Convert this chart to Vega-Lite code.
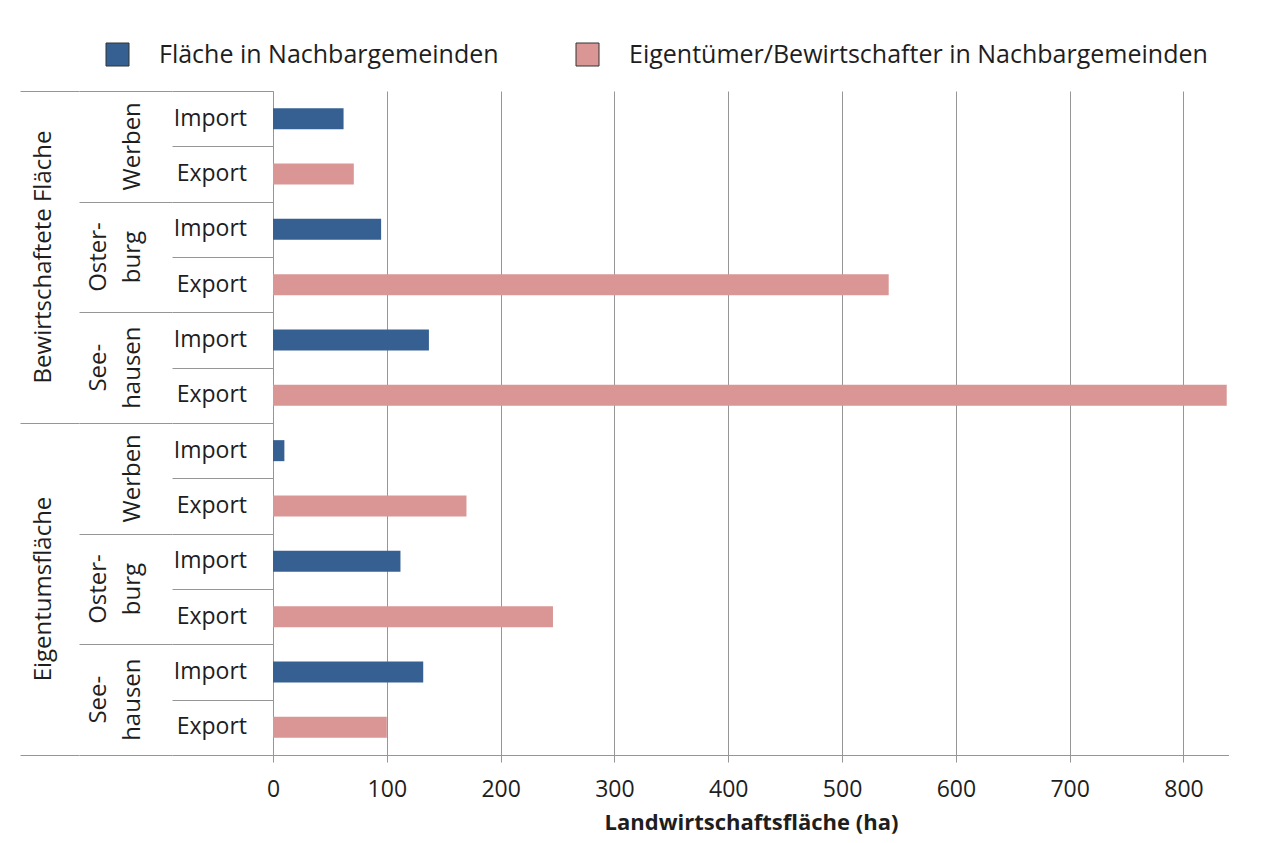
{
  "$schema": "https://vega.github.io/schema/vega-lite/v6.json",
  "background": "white",
  "padding": {"left": 20, "top": 42, "right": 0, "bottom": 4},
  "autosize": {"type": "pad"},
  "spacing": 0,
  "bounds": "flush",
  "config": {
    "view": {"stroke": null},
    "font": "Open Sans",
    "axis": {"labelFont": "Open Sans", "titleFont": "Open Sans", "labelColor": "#1e1e1e", "titleColor": "#1e1e1e", "gridColor": "#969696", "domainColor": "#969696", "tickColor": "#969696"},
    "legend": {"labelFont": "Open Sans", "labelColor": "#1e1e1e"}
  },
  "data": {
    "values": [
      {"group": "Bewirtschaftete Fläche", "gs": "B-Werben", "s1": "", "s2": "Werben", "type": "Import", "row": "B-Werben-Import", "series": "Fläche in Nachbargemeinden", "value": 62},
      {"group": "Bewirtschaftete Fläche", "gs": "B-Werben", "s1": "", "s2": "Werben", "type": "Export", "row": "B-Werben-Export", "series": "Eigentümer/Bewirtschafter in Nachbargemeinden", "value": 71},
      {"group": "Bewirtschaftete Fläche", "gs": "B-Osterburg", "s1": "Oster-", "s2": "burg", "type": "Import", "row": "B-Osterburg-Import", "series": "Fläche in Nachbargemeinden", "value": 95},
      {"group": "Bewirtschaftete Fläche", "gs": "B-Osterburg", "s1": "Oster-", "s2": "burg", "type": "Export", "row": "B-Osterburg-Export", "series": "Eigentümer/Bewirtschafter in Nachbargemeinden", "value": 541},
      {"group": "Bewirtschaftete Fläche", "gs": "B-Seehausen", "s1": "See-", "s2": "hausen", "type": "Import", "row": "B-Seehausen-Import", "series": "Fläche in Nachbargemeinden", "value": 137},
      {"group": "Bewirtschaftete Fläche", "gs": "B-Seehausen", "s1": "See-", "s2": "hausen", "type": "Export", "row": "B-Seehausen-Export", "series": "Eigentümer/Bewirtschafter in Nachbargemeinden", "value": 838},
      {"group": "Eigentumsfläche", "gs": "E-Werben", "s1": "", "s2": "Werben", "type": "Import", "row": "E-Werben-Import", "series": "Fläche in Nachbargemeinden", "value": 10},
      {"group": "Eigentumsfläche", "gs": "E-Werben", "s1": "", "s2": "Werben", "type": "Export", "row": "E-Werben-Export", "series": "Eigentümer/Bewirtschafter in Nachbargemeinden", "value": 170},
      {"group": "Eigentumsfläche", "gs": "E-Osterburg", "s1": "Oster-", "s2": "burg", "type": "Import", "row": "E-Osterburg-Import", "series": "Fläche in Nachbargemeinden", "value": 112},
      {"group": "Eigentumsfläche", "gs": "E-Osterburg", "s1": "Oster-", "s2": "burg", "type": "Export", "row": "E-Osterburg-Export", "series": "Eigentümer/Bewirtschafter in Nachbargemeinden", "value": 246},
      {"group": "Eigentumsfläche", "gs": "E-Seehausen", "s1": "See-", "s2": "hausen", "type": "Import", "row": "E-Seehausen-Import", "series": "Fläche in Nachbargemeinden", "value": 132},
      {"group": "Eigentumsfläche", "gs": "E-Seehausen", "s1": "See-", "s2": "hausen", "type": "Export", "row": "E-Seehausen-Export", "series": "Eigentümer/Bewirtschafter in Nachbargemeinden", "value": 100}
    ]
  },
  "hconcat": [
    {
      "width": 59,
      "height": 664,
      "transform": [{"aggregate": [{"op": "count", "as": "n"}], "groupby": ["group"]}],
      "mark": {"type": "text", "angle": 270, "baseline": "alphabetic", "align": "center", "dy": 1.5, "fontSize": 24, "font": "Open Sans", "color": "#1e1e1e"},
      "encoding": {
        "y": {"field": "group", "type": "nominal", "scale": {"domain": ["Bewirtschaftete Fläche", "Eigentumsfläche"], "paddingInner": 0, "paddingOuter": 0},
              "axis": {"labels": false, "ticks": false, "domain": false, "grid": true, "tickBand": "extent", "title": null, "minExtent": 0, "maxExtent": 0}},
        "text": {"field": "group"}
      }
    },
    {
      "width": 93,
      "height": 664,
      "transform": [{"aggregate": [{"op": "count", "as": "n"}], "groupby": ["gs", "s1", "s2"]}],
      "encoding": {
        "y": {"field": "gs", "type": "nominal", "scale": {"domain": ["B-Werben", "B-Osterburg", "B-Seehausen", "E-Werben", "E-Osterburg", "E-Seehausen"], "paddingInner": 0, "paddingOuter": 0},
              "axis": {"labels": false, "ticks": false, "domain": false, "grid": true, "tickBand": "extent", "title": null, "minExtent": 0, "maxExtent": 0}}
      },
      "layer": [
        {
          "mark": {"type": "text", "angle": 270, "baseline": "alphabetic", "align": "center", "dy": -19.5, "fontSize": 24, "font": "Open Sans", "color": "#1e1e1e"},
          "encoding": {"text": {"field": "s1"}}
        },
        {
          "mark": {"type": "text", "angle": 270, "baseline": "alphabetic", "align": "center", "dy": 14.5, "fontSize": 24, "font": "Open Sans", "color": "#1e1e1e"},
          "encoding": {"text": {"field": "s2"}}
        }
      ]
    },
    {
      "width": 101,
      "height": 664,
      "mark": {"type": "text", "align": "right", "baseline": "middle", "dx": 24.5, "fontSize": 23, "font": "Open Sans", "color": "#1e1e1e"},
      "encoding": {
        "y": {"field": "row", "type": "nominal", "scale": {"domain": ["B-Werben-Import", "B-Werben-Export", "B-Osterburg-Import", "B-Osterburg-Export", "B-Seehausen-Import", "B-Seehausen-Export", "E-Werben-Import", "E-Werben-Export", "E-Osterburg-Import", "E-Osterburg-Export", "E-Seehausen-Import", "E-Seehausen-Export"], "paddingInner": 0, "paddingOuter": 0},
              "axis": {"labels": false, "ticks": false, "domain": false, "grid": true, "tickBand": "extent", "title": null, "minExtent": 0, "maxExtent": 0}},
        "text": {"field": "type"}
      }
    },
    {
      "width": 956,
      "height": 664,
      "mark": {"type": "bar"},
      "encoding": {
        "y": {"field": "row", "type": "nominal", "scale": {"domain": ["B-Werben-Import", "B-Werben-Export", "B-Osterburg-Import", "B-Osterburg-Export", "B-Seehausen-Import", "B-Seehausen-Export", "E-Werben-Import", "E-Werben-Export", "E-Osterburg-Import", "E-Osterburg-Export", "E-Seehausen-Import", "E-Seehausen-Export"], "paddingInner": 0.62, "paddingOuter": 0.31},
              "axis": {"labels": false, "ticks": false, "domain": true, "grid": false, "title": null, "minExtent": 0, "maxExtent": 0}},
        "x": {"field": "value", "type": "quantitative", "scale": {"domain": [0, 840], "nice": false, "zero": true},
              "axis": {"values": [0, 100, 200, 300, 400, 500, 600, 700, 800], "grid": true, "tickSize": 7, "labelFontSize": 23, "labelPadding": 16, "labelFlush": false, "title": "Landwirtschaftsfläche (ha)", "titleFontSize": 22, "titleFontWeight": "bold", "titlePadding": 11}},
        "color": {"field": "series", "type": "nominal",
                  "scale": {"domain": ["Fläche in Nachbargemeinden", "Eigentümer/Bewirtschafter in Nachbargemeinden"], "range": ["#376092", "#D99694"]},
                  "legend": {"orient": "none", "legendX": 85, "legendY": -49, "direction": "horizontal", "title": null, "symbolType": "square", "symbolSize": 529, "symbolStrokeColor": "#333333", "symbolStrokeWidth": 1, "symbolOpacity": 1, "labelFontSize": 25, "labelOffset": 29, "columnPadding": 75, "labelLimit": 0}}
      }
    }
  ],
  "resolve": {"scale": {"y": "independent"}}
}
